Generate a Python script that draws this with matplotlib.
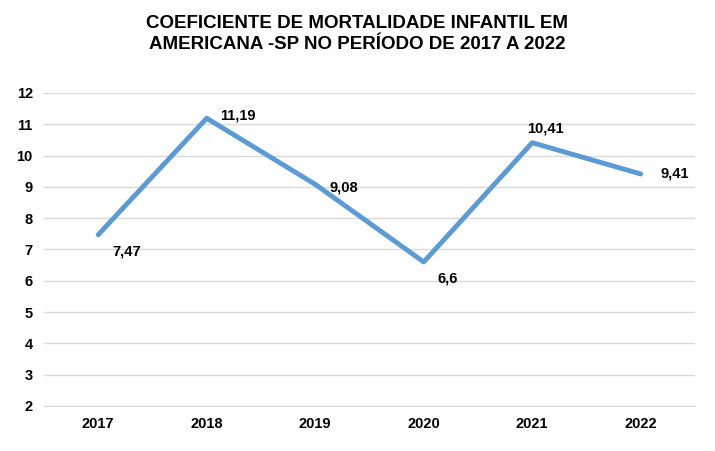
import matplotlib
matplotlib.use("Agg")
import matplotlib.pyplot as plt

years = ["2017", "2018", "2019", "2020", "2021", "2022"]
values = [7.47, 11.19, 9.08, 6.6, 10.41, 9.41]
labels = ["7,47", "11,19", "9,08", "6,6", "10,41", "9,41"]
# label offsets in points (dx, dy)
offsets = [(10, -12), (10, 2), (10, -2), (10, -12), (-4, 10), (14, 0)]

plt.rcParams["font.family"] = ["Liberation Sans", "DejaVu Sans"]

fig = plt.figure(figsize=(7.15, 4.51), dpi=100)
ax = fig.add_axes([0.0615, 0.0998, 0.9105, 0.6942])

x = list(range(len(years)))
ax.plot(x, values, color="#5B9BD5", linewidth=3.5, solid_capstyle="round", zorder=3)
for xi, v, lab, (dx, dy) in zip(x, values, labels, offsets):
    ax.annotate(lab, (xi, v), xytext=(dx, dy), textcoords="offset points",
                fontsize=10.5, fontweight="bold", ha="left", va="center")

ax.set_xlim(-0.5, len(years) - 0.5)
ax.set_ylim(2, 12)
ax.set_yticks(range(2, 13))
ax.set_xticks(x)
ax.set_xticklabels(years)
ax.grid(axis="y", color="#D9D9D9", linewidth=1)
ax.set_axisbelow(True)
for s in ["top", "right", "left"]:
    ax.spines[s].set_visible(False)
ax.spines["bottom"].set_color("#D9D9D9")
ax.tick_params(length=0, labelsize=10.5, pad=8)
for t in ax.get_xticklabels() + ax.get_yticklabels():
    t.set_fontweight("bold")

fig.text(0.5, 0.925, "COEFICIENTE DE MORTALIDADE INFANTIL EM\nAMERICANA -SP NO PERÍODO DE 2017 A 2022",
         ha="center", va="center", fontsize=13.5, fontweight="bold", linespacing=1.3)

fig.savefig("out.png", dpi=100)
